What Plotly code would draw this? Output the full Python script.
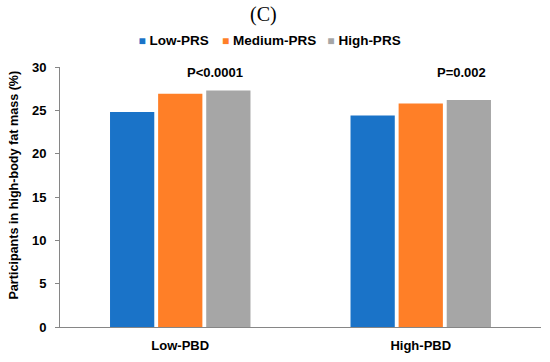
import plotly.graph_objects as go

categories = ["Low-PBD", "High-PBD"]
series_names = ["Low-PRS", "Medium-PRS", "High-PRS"]
low_prs = [24.8, 24.4]
medium_prs = [26.9, 25.8]
high_prs = [27.3, 26.2]
p_labels = ["P<0.0001", "P=0.002"]
y_ticks = [0, 5, 10, 15, 20, 25, 30]

colors = ["#1a73c8", "#ff7f27", "#a6a6a6"]
font_bold = "Liberation Sans"
legend_x = [0.0798, 0.2534, 0.4727]
legend_ids = ["legend", "legend2", "legend3"]

fig = go.Figure()
for name, vals, c, lid in zip(series_names, [low_prs, medium_prs, high_prs], colors, legend_ids):
    fig.add_trace(go.Bar(x=categories, y=vals, name=name, showlegend=False,
                         marker=dict(color=c, line=dict(width=0))))
    label = ('<span style="color:%s;font-size:12px">■</span> <b>%s</b>' % (c, name))
    fig.add_trace(go.Scatter(x=[None], y=[None], mode="markers", name=label,
                             legend=lid, showlegend=True, hoverinfo="skip",
                             marker=dict(symbol="square", size=1,
                                         color="rgba(0,0,0,0)",
                                         line=dict(width=0, color="rgba(0,0,0,0)"))))

# P-value annotations
fig.add_annotation(x=categories[0], y=29.35, text="<b>" + p_labels[0] + "</b>", showarrow=False,
                   xshift=35, font=dict(family=font_bold, size=13, color="black"))
fig.add_annotation(x=categories[1], y=29.35, text="<b>" + p_labels[1] + "</b>", showarrow=False,
                   xshift=41, font=dict(family=font_bold, size=13, color="black"))

# y-axis title
fig.add_annotation(xref="paper", yref="paper", x=-0.0956, y=0.544, textangle=-90,
                   text="<b>Participants in high-body fat mass (%)</b>", showarrow=False,
                   xanchor="center", yanchor="middle",
                   font=dict(family=font_bold, size=12.6, color="black"))

leg_common = dict(orientation="h", xanchor="left", y=1.103, yanchor="middle",
                  font=dict(family=font_bold, size=13.5, color="black"),
                  itemwidth=30, bgcolor="rgba(0,0,0,0)", borderwidth=0)
fig.update_layout(
    width=550, height=362,
    margin=dict(l=60, r=9, t=67, b=33),
    paper_bgcolor="white", plot_bgcolor="white",
    barmode="group", bargap=0.4, bargroupgap=0.08,
    title=dict(text="(C)", x=0.479, xanchor="center", y=0.961, yanchor="middle",
               font=dict(family="Liberation Serif", size=20, color="black")),
    legend=dict(x=legend_x[0], **leg_common),
    legend2=dict(x=legend_x[1], **leg_common),
    legend3=dict(x=legend_x[2], **leg_common),
    font=dict(family=font_bold, color="black"),
)
fig.update_yaxes(range=[0, 30], tickvals=y_ticks, ticktext=["<b>%d</b>" % v for v in y_ticks],
                 ticks="outside", ticklen=4, ticklabelstandoff=6,
                 tickcolor="#868686", showline=True, linecolor="#868686", linewidth=1,
                 showgrid=False, zeroline=False,
                 tickfont=dict(family=font_bold, size=13, color="black"))
fig.update_xaxes(showline=True, linecolor="#868686", linewidth=1, ticks="",
                 tickvals=categories, ticktext=["<b>" + c + "</b>" for c in categories],
                 ticklabelstandoff=6,
                 tickfont=dict(family=font_bold, size=13, color="black"))

fig.write_html("out.html", config={"displayModeBar": False},
               post_script="document.body.style.margin='0';")
